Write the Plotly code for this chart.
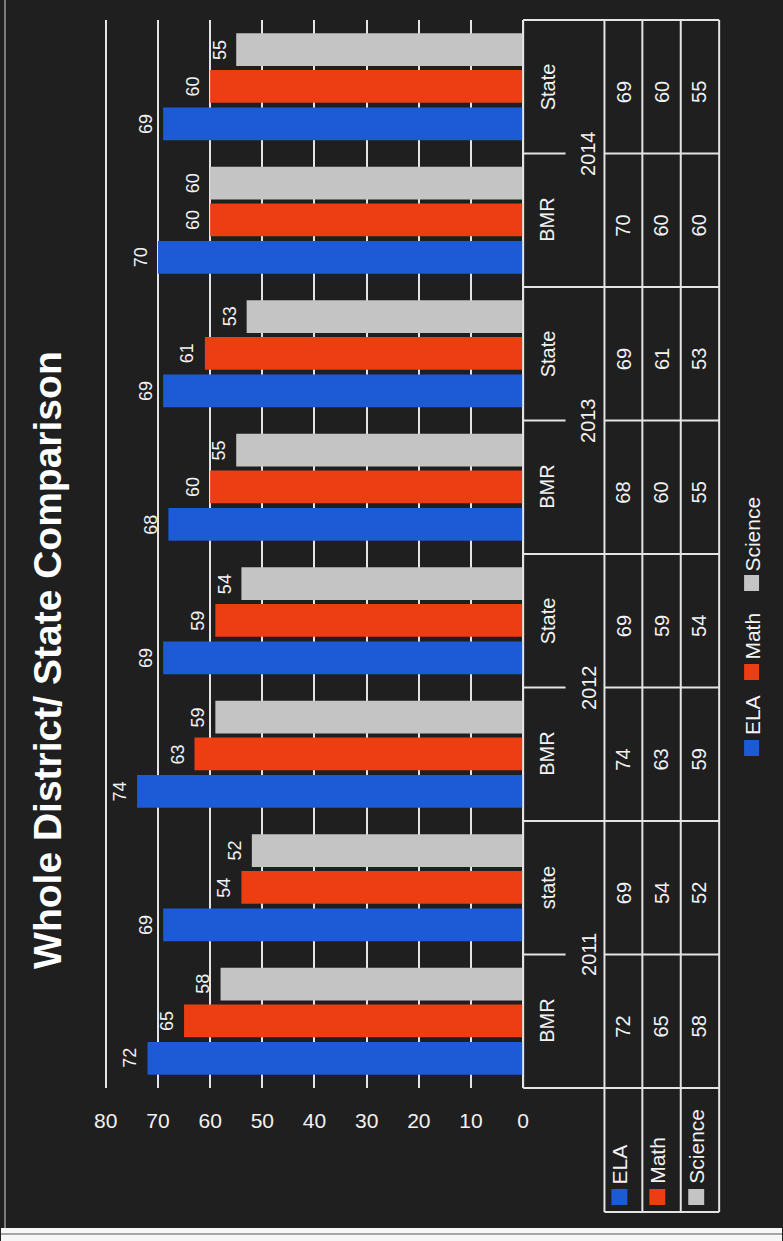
import plotly.graph_objects as go

# ---------------- data ----------------
groups = ["BMR", "state", "BMR", "State", "BMR", "State", "BMR", "State"]
years = ["2011", "2012", "2013", "2014"]
series_names = ["ELA", "Math", "Science"]
ela = [72, 69, 74, 69, 68, 69, 70, 69]
math = [65, 54, 63, 59, 60, 61, 60, 60]
science = [58, 52, 59, 54, 55, 53, 60, 55]
value_ticks = [0, 10, 20, 30, 40, 50, 60, 70, 80]
title_text = "Whole District/ State Comparison"

# ---------------- styles ----------------
colors = ["#1d5bd6", "#ec3e12", "#c4c4c4"]
BG = "#1f1f1f"
LINE = "#e4e4e4"
TXT = "#f2f2f2"
FONT = "Liberation Sans, Arial, sans-serif"

W, H = 783, 1241
def px_x(px):
    return px / W
def px_y(py):
    return 1 - py / H

X_LEFT_PX, X_RIGHT_PX = 94.6, 528.7
Y_TOP_PX, Y_BOTTOM_PX = 20, 1088
n = len(groups)
pos = list(range(n))
cat_h = (Y_BOTTOM_PX - Y_TOP_PX) / n

fig = go.Figure()
offsets = [-0.40, -0.12, 0.155]
BAR_W = 0.245
annotations = []
for name, vals, col, off in zip(series_names, [ela, math, science], colors, offsets):
    fig.add_trace(go.Bar(
        y=pos, x=vals, orientation="h", name=name,
        width=BAR_W, offset=off,
        marker=dict(color=col, line=dict(width=0)),
        hoverinfo="skip", showlegend=False,
    ))
    for i, v in enumerate(vals):
        annotations.append(dict(x=v, xref="x", y=i + off + BAR_W / 2, yref="y", text=str(v),
                                textangle=-90, showarrow=False, xanchor="center", yanchor="middle",
                                xshift=-17, font=dict(family=FONT, size=18, color=TXT)))

shapes = []

def hline(x0, x1, py, color=LINE, w=2):
    shapes.append(dict(type="line", xref="paper", yref="paper",
                       x0=px_x(x0), x1=px_x(x1), y0=px_y(py), y1=px_y(py),
                       line=dict(color=color, width=w)))

def vline(px, y0, y1, color=LINE, w=2):
    shapes.append(dict(type="line", xref="paper", yref="paper",
                       x0=px_x(px), x1=px_x(px), y0=px_y(y0), y1=px_y(y1),
                       line=dict(color=color, width=w)))

# page edges
shapes.append(dict(type="rect", xref="paper", yref="paper", x0=0, x1=1,
                   y0=0, y1=px_y(1228), fillcolor="#f6f6f6", line=dict(width=0)))
hline(0, W, 1234, color="#555555", w=1)
vline(4, 0, 1228, color="#9a9a9a", w=1.5)

# ---------------- data table ----------------
C0, C1, C2, C3, C4 = 523.5, 605, 643, 681.5, 720
for c in [C0, C1, C2, C3, C4]:
    vline(c, Y_TOP_PX, Y_BOTTOM_PX)
for c in [C1, C2, C3, C4]:
    vline(c, Y_BOTTOM_PX, 1212)
hline(C1, C4, 1212)
for k in range(n + 1):
    py = Y_BOTTOM_PX - k * cat_h
    if k % 2 == 0:
        hline(C0, C4, py)
    else:
        hline(C0, 566, py)
        hline(C1, C4, py)

col_centers = [624, 662, 700]
for i in range(n):
    annotations.append(dict(x=px_x(548), xref="paper", y=i, yref="y", text=groups[i],
                            textangle=-90, showarrow=False, xanchor="center", yanchor="middle",
                            font=dict(family=FONT, size=20, color=TXT)))
    for cx, vals in zip(col_centers, [ela, math, science]):
        annotations.append(dict(x=px_x(cx), xref="paper", y=i, yref="y", text=str(vals[i]),
                                textangle=-90, showarrow=False, xanchor="center", yanchor="middle",
                                yshift=-5, font=dict(family=FONT, size=20, color=TXT)))
for j, yr in enumerate(years):
    annotations.append(dict(x=px_x(589), xref="paper", y=2 * j + 0.5, yref="y", text=yr,
                            textangle=-90, showarrow=False, xanchor="center", yanchor="middle",
                            font=dict(family=FONT, size=20, color=TXT)))

# row headers with keys
for cx, name, col in zip([620, 658, 697], series_names, colors):
    shapes.append(dict(type="rect", xref="paper", yref="paper",
                       x0=px_x(cx - 8), x1=px_x(cx + 8), y0=px_y(1205), y1=px_y(1189),
                       fillcolor=col, line=dict(width=0)))
    annotations.append(dict(x=px_x(cx), xref="paper", y=px_y(1186), yref="paper", text=name,
                            textangle=-90, showarrow=False, xanchor="center", yanchor="bottom",
                            font=dict(family=FONT, size=21, color=TXT)))

# ---------------- legend ----------------
for key_c, text_bottom, name, col in zip([748, 672, 583], [737, 662, 574], series_names, colors):
    shapes.append(dict(type="rect", xref="paper", yref="paper",
                       x0=px_x(745), x1=px_x(760), y0=px_y(key_c + 8), y1=px_y(key_c - 8),
                       fillcolor=col, line=dict(width=0)))
    annotations.append(dict(x=px_x(753), xref="paper", y=px_y(text_bottom), yref="paper", text=name,
                            textangle=-90, showarrow=False, xanchor="center", yanchor="bottom",
                            font=dict(family=FONT, size=21, color=TXT)))

# ---------------- title ----------------
annotations.append(dict(x=px_x(46), xref="paper", y=px_y(660), yref="paper",
                        text="<b>" + title_text + "</b>", textangle=-90, showarrow=False,
                        xanchor="center", yanchor="middle",
                        font=dict(family=FONT, size=39, color="#ffffff")))

fig.update_layout(
    width=W, height=H,
    margin=dict(l=0, r=0, t=0, b=0),
    paper_bgcolor=BG, plot_bgcolor=BG,
    barmode="overlay",
    xaxis=dict(range=[82, -1], domain=[px_x(X_LEFT_PX), px_x(X_RIGHT_PX)],
               tickvals=value_ticks, ticktext=[str(v) for v in value_ticks],
               showgrid=True, gridcolor=LINE, gridwidth=2, zeroline=False,
               showline=False, ticks="", ticklabelstandoff=18,
               tickfont=dict(family="Liberation Sans Narrow, Arial Narrow, Liberation Sans, Arial",
                             size=21, color=TXT),
               fixedrange=True),
    yaxis=dict(range=[-0.5, n - 0.5], domain=[px_y(Y_BOTTOM_PX), px_y(Y_TOP_PX)],
               showgrid=False, showticklabels=False, zeroline=False, showline=False,
               fixedrange=True),
    shapes=shapes,
    annotations=annotations,
    showlegend=False,
)

fig.write_html("out.html")
